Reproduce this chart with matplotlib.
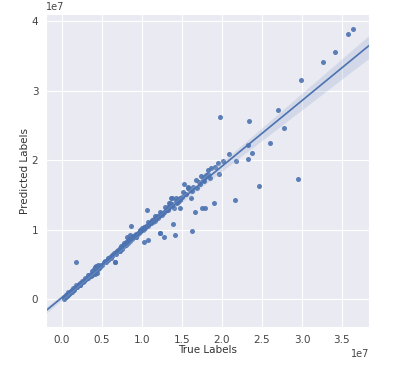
import matplotlib
matplotlib.use("Agg")
import matplotlib.pyplot as plt
from matplotlib.ticker import MultipleLocator
import numpy as np
import seaborn as sns

# values in units of 1e7
true_vals = [
    0.02, 0.03, 0.04, 0.05, 0.05, 0.06, 0.07, 0.08, 0.08, 0.09, 0.10, 0.10,
    0.11, 0.12, 0.12, 0.13, 0.14, 0.15, 0.15, 0.16, 0.17, 0.18, 0.18, 0.19,
    0.20, 0.21, 0.22, 0.23, 0.24, 0.25, 0.26, 0.27, 0.28, 0.29, 0.30,
    0.31, 0.32, 0.33, 0.34, 0.35, 0.36, 0.36, 0.37, 0.38, 0.38, 0.39, 0.40,
    0.40, 0.41, 0.41, 0.42, 0.42, 0.43, 0.43, 0.44, 0.44, 0.45, 0.46, 0.47,
    0.48, 0.49, 0.50,
    0.52, 0.54, 0.55, 0.57, 0.58, 0.60, 0.61, 0.62, 0.63, 0.65, 0.66, 0.67,
    0.68, 0.69, 0.70, 0.71, 0.72, 0.73, 0.74, 0.75,
    0.76, 0.77, 0.78, 0.79, 0.80, 0.80, 0.81, 0.82, 0.83, 0.84, 0.85, 0.85,
    0.86, 0.87, 0.88, 0.89, 0.90, 0.91, 0.92, 0.93, 0.94, 0.95, 0.96, 0.97,
    0.98, 0.99, 1.00,
    1.01, 1.02, 1.03, 1.04, 1.05, 1.06, 1.07, 1.08, 1.09, 1.10, 1.11, 1.12,
    1.13, 1.14, 1.15, 1.16, 1.17, 1.18, 1.19, 1.20, 1.22, 1.24, 1.25, 1.27,
    1.28, 1.30, 1.32, 1.33, 1.34, 1.35, 1.36, 1.38, 1.40, 1.42, 1.44, 1.46,
    1.48, 1.50,
    1.53, 1.59, 1.63, 1.69, 1.73, 1.76, 1.80, 1.61, 1.48, 1.38, 1.34, 1.34,
    1.66, 1.75, 1.39, 1.22, 1.41, 1.62, 1.57, 1.55, 1.45,
    1.82, 1.85, 1.91, 1.95, 2.01, 2.09, 2.18, 2.33, 2.38, 2.33, 2.60, 1.97,
    2.34, 2.70, 2.78, 2.95, 2.99, 3.26, 3.41, 3.575, 3.64, 2.46, 2.16, 1.90,
    1.79, 1.96, 1.77, 1.83,
    0.175, 0.66, 0.81, 0.06, 0.14, 0.22, 0.33, 0.45, 0.57, 0.72,
    0.92, 0.97, 1.03, 1.08, 1.11, 1.16, 1.21, 1.23, 1.26, 1.29, 1.31, 1.35,
    1.37, 1.43, 1.47, 1.51, 1.54, 1.58, 1.64, 1.68, 1.71, 1.74, 1.78, 1.86,
]
pred_vals = [
    0.01, 0.04, 0.03, 0.06, 0.04, 0.07, 0.06, 0.09, 0.10, 0.08, 0.11, 0.09,
    0.12, 0.13, 0.11, 0.14, 0.13, 0.16, 0.14, 0.17, 0.18, 0.17, 0.20, 0.18,
    0.21, 0.22, 0.20, 0.24, 0.23, 0.26, 0.25, 0.28, 0.27, 0.30, 0.29,
    0.30, 0.33, 0.31, 0.35, 0.33, 0.37, 0.34, 0.36, 0.40, 0.35, 0.41, 0.38,
    0.44, 0.46, 0.36, 0.48, 0.40, 0.42, 0.47, 0.45, 0.38, 0.49, 0.45, 0.48,
    0.46, 0.50, 0.49,
    0.53, 0.55, 0.54, 0.56, 0.60, 0.61, 0.59, 0.64, 0.62, 0.66, 0.53, 0.68,
    0.65, 0.70, 0.71, 0.69, 0.74, 0.72, 0.76, 0.73,
    0.78, 0.76, 0.81, 0.80, 0.83, 0.78, 0.82, 0.85, 0.81, 0.86, 0.92, 0.84,
    1.05, 0.88, 0.86, 0.91, 0.89, 0.93, 0.90, 0.94, 0.92, 0.96, 0.95, 0.98,
    0.97, 1.00, 1.02,
    1.00, 0.83, 1.04, 1.03, 1.06, 1.28, 1.05, 0.85, 1.08, 1.10, 1.09, 1.12,
    1.14, 1.11, 1.16, 1.13, 1.18, 1.15, 1.20, 1.17, 0.96, 1.23, 1.21, 1.26,
    0.89, 1.29, 1.31, 1.28, 1.33, 1.35, 1.45, 1.37, 1.31, 1.41, 1.39, 1.44,
    1.42, 1.47,
    1.65, 1.58, 1.55, 1.60, 1.65, 1.72, 1.78, 1.45, 1.31, 1.45, 1.39, 1.34,
    1.25, 1.31, 1.08, 0.96, 0.93, 0.98, 1.60, 1.52, 1.40,
    1.86, 1.74, 1.90, 1.96, 1.99, 2.09, 1.99, 2.01, 2.10, 2.22, 2.25, 2.62,
    2.56, 2.72, 2.46, 1.73, 3.15, 3.41, 3.55, 3.81, 3.88, 1.63, 1.42, 1.38,
    1.31, 1.80, 1.70, 1.80,
    0.53, 0.53, 0.89, 0.05, 0.16, 0.21, 0.35, 0.43, 0.58, 0.70,
    0.90, 1.00, 1.01, 1.11, 1.09, 1.19, 1.19, 1.26, 1.24, 1.32, 1.29, 1.38,
    1.35, 1.46, 1.45, 1.54, 1.52, 1.61, 1.62, 1.71, 1.69, 1.77, 1.76, 1.89,
]

x = np.array(true_vals) * 1e7
y = np.array(pred_vals) * 1e7

sns.set_style("darkgrid")
plt.rcParams["font.family"] = ["DejaVu Sans"]

fig = plt.figure(figsize=(4.09, 3.68), dpi=100)
ax = fig.add_axes([0.1125, 0.111, 0.79, 0.851])
ax.set_xlim(-0.2e7, 3.84e7)
ax.set_ylim(-0.4e7, 4.1e7)
ax.yaxis.set_major_locator(MultipleLocator(1e7))
ax.xaxis.set_major_locator(MultipleLocator(0.5e7))

sns.regplot(x=x, y=y, ax=ax, truncate=False, seed=0, color="#4C72B0",
            scatter_kws={"s": 13, "alpha": 0.9, "linewidths": 0},
            line_kws={"lw": 1.2})

ax.set_xlabel("True Labels", fontsize=7.5, color="#333333", labelpad=0)
ax.set_ylabel("Predicted Labels", fontsize=7.5, color="#333333", labelpad=1)
ax.tick_params(labelsize=7.5, colors="#444444", pad=2)
ax.xaxis.get_offset_text().set_fontsize(7)
ax.yaxis.get_offset_text().set_fontsize(7)
ax.xaxis.get_offset_text().set_color("#444444")
ax.yaxis.get_offset_text().set_color("#444444")

fig.savefig("out.png", dpi=100, facecolor="white")
